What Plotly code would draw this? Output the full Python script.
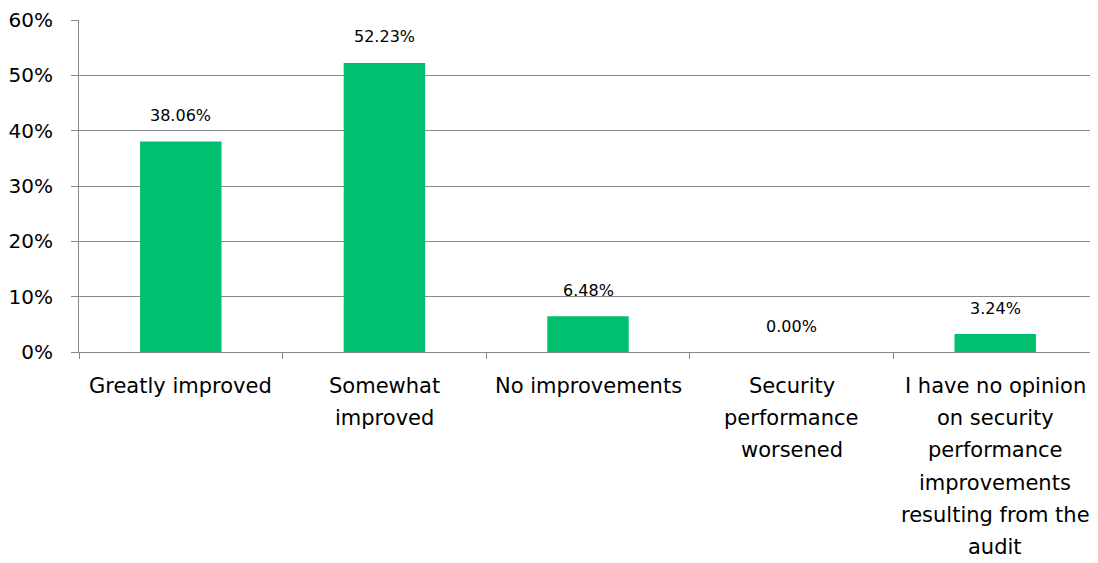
"""Bar chart: perceived security performance change after the audit."""
import plotly.graph_objects as go

categories = [
    "Greatly improved",
    "Somewhat improved",
    "No improvements",
    "Security performance worsened",
    "I have no opinion on security performance improvements resulting from the audit",
]
label_lines = [
    ["Greatly improved"],
    ["Somewhat", "improved"],
    ["No improvements"],
    ["Security", "performance", "worsened"],
    ["I have no opinion", "on security", "performance", "improvements", "resulting from the", "audit"],
]
values = [38.06, 52.23, 6.48, 0.00, 3.24]
y_ticks = [0, 10, 20, 30, 40, 50, 60]

FONT = "'DejaVu Sans', sans-serif"
GRAY = "#898989"

fig = go.Figure()
fig.add_trace(
    go.Bar(
        x=categories,
        y=values,
        marker=dict(color="#00BF6F", line=dict(width=0)),
        width=0.4,
        hoverinfo="skip",
    )
)

annotations = []
for cat, val in zip(categories, values):
    annotations.append(
        dict(
            x=cat, y=val, xref="x", yref="y",
            text=f"{val:.2f}%", showarrow=False,
            yanchor="middle", yshift=26,
            font=dict(family=FONT, size=16, color="#000000"),
        )
    )
for cat, lines in zip(categories, label_lines):
    for i, line in enumerate(lines):
        annotations.append(
            dict(
                x=cat, y=0, xref="x", yref="y",
                text=line, showarrow=False,
                yanchor="middle", yshift=-(34 + 32.2 * i),
                font=dict(family=FONT, size=21, color="#000000"),
            )
        )

# page body has an 8px margin, so the figure is sized to fit the window
fig.update_layout(
    width=1090,
    height=555,
    margin=dict(l=71, r=1, t=12, b=211),
    paper_bgcolor="white",
    plot_bgcolor="white",
    showlegend=False,
    annotations=annotations,
    font=dict(family=FONT, size=20, color="#000000"),
)
fig.update_xaxes(
    showticklabels=False,
    ticks="outside",
    tickson="boundaries",
    ticklen=6,
    tickcolor=GRAY,
    showline=True,
    linecolor=GRAY,
    linewidth=1,
    showgrid=False,
)
fig.update_yaxes(
    range=[0, 60],
    tickvals=y_ticks,
    ticktext=[f"{t}%" for t in y_ticks],
    ticks="outside",
    ticklen=7,
    ticklabelstandoff=14,
    tickcolor=GRAY,
    showline=True,
    linecolor=GRAY,
    linewidth=1,
    gridcolor=GRAY,
    gridwidth=1,
    zeroline=False,
    tickfont=dict(family=FONT, size=20, color="#000000"),
)

fig.write_html("out.html")
